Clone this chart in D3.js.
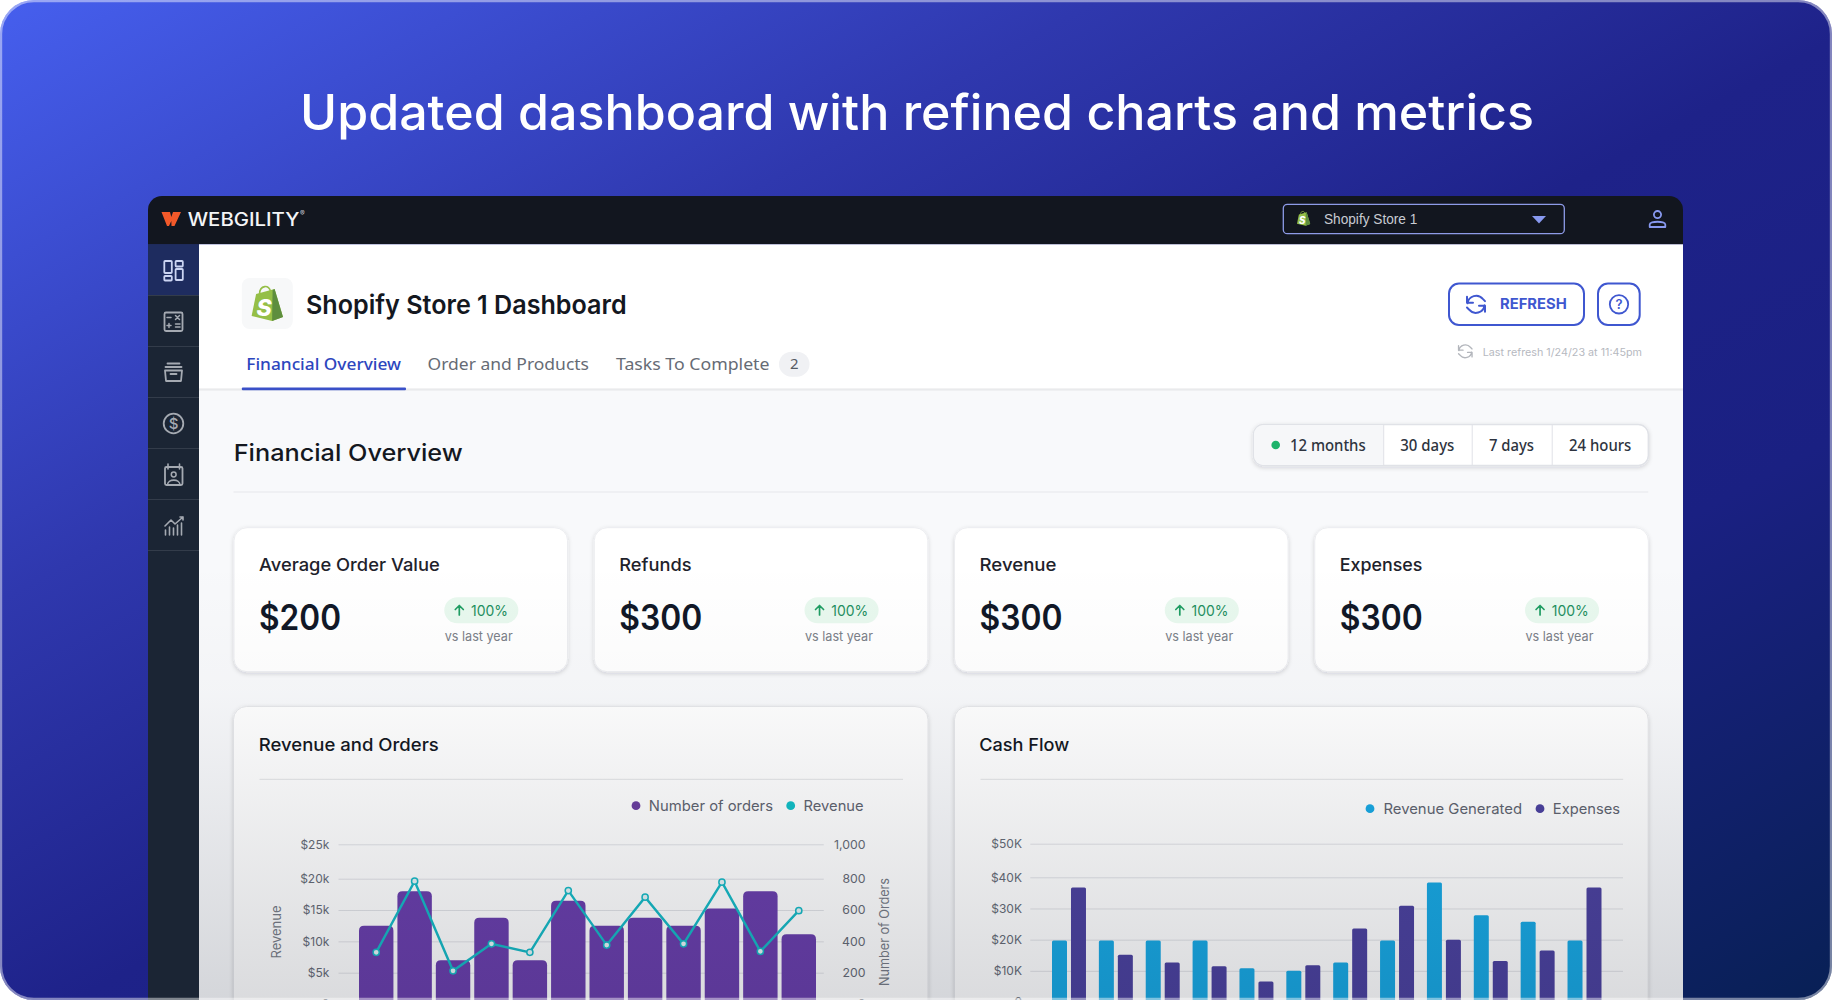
<!DOCTYPE html>
<html>
<head>
<meta charset="utf-8">
<script src="https://d3js.org/d3.v7.min.js"></script>
<style>
html,body{margin:0;padding:0;background:#fff;overflow:hidden}
svg{display:block}
text{font-family:Inter,"Noto Sans",sans-serif}
</style>
</head>
<body>
<svg id="c" width="1832" height="1000" viewBox="0 0 1832 1000"></svg>
<script>
// ---- chart data ----
const categories = ["Jan","Feb","Mar","Apr","May","Jun","Jul","Aug","Sep","Oct","Nov","Dec"];
const ordersValues = [500,720,280,550,280,660,500,550,500,610,720,445];
const revenueValues = [8250,19600,5300,9600,8250,18100,9400,17050,9600,19450,8400,14900];
const cashRevenueValues = [19700,19700,19700,19700,10800,10050,12700,19700,38350,27800,25750,19700];
const cashExpenseValues = [36750,15150,12700,11450,6600,11750,23600,30900,20000,13150,16550,36750];
const revenueTicks = [0,5000,10000,15000,20000,25000];
const orderTicks = [0,200,400,600,800,1000];
const cashTicks = [0,10000,20000,30000,40000,50000];
const cashSeries = ["Revenue Generated","Expenses"];
const kpiTitles = ["Average Order Value","Refunds","Revenue","Expenses"];
const kpiValues = ["$200","$300","$300","$300"];
const kpiChange = ["100%","100%","100%","100%"];
const rangeOptions = ["12 months","30 days","7 days","24 hours"];
const tabLabels = ["Financial Overview","Order and Products","Tasks To Complete"];

const svg = d3.select("#c");
const defs = svg.append("defs");

const bgGrad = defs.append("linearGradient").attr("id","bg").attr("x1",0).attr("y1",0).attr("x2",1).attr("y2",1);
[[0,"#465FEE"],[.3,"#2F38AE"],[.52,"#1E2289"],[.72,"#1A2082"],[1,"#082055"]].forEach(d=>bgGrad.append("stop").attr("offset",d[0]).attr("stop-color",d[1]));
const fade = defs.append("linearGradient").attr("id","fade").attr("x1",0).attr("y1",0).attr("x2",0).attr("y2",1);
[[0,0],[.3,.02],[1,.15]].forEach(d=>fade.append("stop").attr("offset",d[0]).attr("stop-color","#0a1020").attr("stop-opacity",d[1]));
const sh = defs.append("filter").attr("id","sh").attr("x","-5%").attr("y","-10%").attr("width","110%").attr("height","125%");
sh.append("feDropShadow").attr("dx",0).attr("dy",1.5).attr("stdDeviation",2).attr("flood-color","#101828").attr("flood-opacity",.16);
defs.append("clipPath").attr("id","frame").append("rect").attr("width",1832).attr("height",1000).attr("rx",34);
defs.append("clipPath").attr("id","panel").append("rect").attr("x",148).attr("y",196).attr("width",1535).attr("height",900).attr("rx",14);

const root = svg.append("g").attr("clip-path","url(#frame)");
root.append("rect").attr("width",1832).attr("height",1000).attr("fill","url(#bg)");

function T(p,x,y,str,o={}){
  const e = p.append("text").attr("x",x).attr("y",y).text(str)
    .attr("font-size",o.size||14).attr("font-weight",o.weight||400).attr("fill",o.fill||"#111");
  if(o.font) e.style("font-family",o.font);
  if(o.anchor) e.attr("text-anchor",o.anchor);
  if(o.width) e.attr("textLength",o.width).attr("lengthAdjust","spacingAndGlyphs");
  if(o.style) e.attr("font-style",o.style);
  return e;
}
function P(p,d,o={}){
  return p.append("path").attr("d",d).attr("fill",o.fill||"none").attr("stroke",o.stroke||"none")
    .attr("stroke-width",o.sw||1.8).attr("stroke-linecap","round").attr("stroke-linejoin","round");
}
function R(p,x,y,w,h,r,o={}){
  return p.append("rect").attr("x",x).attr("y",y).attr("width",w).attr("height",h).attr("rx",r||0)
    .attr("fill",o.fill||"none").attr("stroke",o.stroke||"none").attr("stroke-width",o.sw||1);
}

// title
T(root,300,130,"Updated dashboard with refined charts and metrics",{size:49,weight:500,fill:"#fff",width:1234});

// panel
const panel = root.append("g").attr("clip-path","url(#panel)");
R(panel,148,196,1535,48.3,0,{fill:"#12161F"});
R(panel,148,244.3,51,760,0,{fill:"#1B2534"});
R(panel,148,244.3,51,51,0,{fill:"#1E2C5F"});
[295,346,397,448,499,550].forEach(y=>R(panel,148,y,51,1,0,{fill:"#333C4A"}));
R(panel,199,244.3,1484,146,0,{fill:"#fff"});
R(panel,199,389,1484,620,0,{fill:"#F8F9FB"});
R(panel,199,388.4,1484,2.2,0,{fill:"#E9EAEC"});

// logo
P(panel,"M161.5,212 L170,212 L171.3,217 L173,212 L181,212 L174.5,226 L171.5,226 L171.3,221 L169,226 L167,226 Z",{fill:"#F2592A"});
T(panel,187.7,225.7,"WEBGILITY",{size:18,weight:500,fill:"#F4F5F7",width:111.7});
T(panel,300,216,"®",{size:7,fill:"#C8CAD0"});

function bag(p,x,y,s){
  const g = p.append("g").attr("transform",`translate(${x},${y}) scale(${s})`);
  P(g,"M0,29 L4.5,7 L23,2 L31.4,30 L20.5,34 Z",{fill:"#95BF47"});
  P(g,"M23,2 L31.4,30 L20.5,34 L21,3 Z",{fill:"#5E8E3E"});
  P(g,"M8,7 C8,-2 18,-3 19,5",{stroke:"#95BF47",sw:1.6});
  T(g,5,29,"S",{size:23,weight:800,fill:"#fff",style:"italic"});
}
// store selector
R(panel,1283.3,204.3,281,29.4,4,{stroke:"#8E9BE8",sw:1.3});
bag(panel,1297,211.5,.42);
T(panel,1324,224.4,"Shopify Store 1",{size:14.5,font:"'Liberation Sans'",fill:"#C9CCD3",width:93.3});
P(panel,"M1532,216 L1546,216 L1539,223.5 Z",{fill:"#8899F0"});
const ui = panel.append("g").attr("transform","translate(1657.5,219)");
ui.append("circle").attr("r",3.6).attr("cy",-4.4).attr("fill","none").attr("stroke","#8899F0").attr("stroke-width",1.8);
P(ui,"M-7.8,8 L-7.8,5.5 C-7.8,1.8 7.8,1.8 7.8,5.5 L7.8,8 Z",{stroke:"#8899F0"});

// header
R(panel,241.8,278,51,51,8,{fill:"#F7F8F9"});
bag(panel,251.6,287,1);
T(panel,306,314,"Shopify Store 1 Dashboard",{size:26,weight:600,fill:"#14181F",width:320.6});

const tabX = [[246.3,154.7,"#2D46BE"],[427.5,161.5,"#666B75"],[616,153.5,"#666B75"]];
tabLabels.forEach((t,i)=>T(panel,tabX[i][0],370,t,{size:17,font:"'Noto Sans'",fill:tabX[i][2],width:tabX[i][1],weight:i==0?500:400}));
R(panel,779,351.7,30.5,25,12.5,{fill:"#F0F1F4"});
T(panel,794.3,369,"2",{size:15,font:"'Noto Sans'",fill:"#555A63",anchor:"middle"});
R(panel,241.8,387.6,164.2,2.6,1,{fill:"#3A50C8"});

function refresh(p,cx,cy,s,col,sw){
  const g = p.append("g").attr("transform",`translate(${cx},${cy}) scale(${s})`);
  P(g,"M-8.5,-1 A8.7,8.7 0 0 1 6.8,-5.4 L9,-3.2 M-9,-7.5 L-9,-1.5 L-3,-1.5",{stroke:col,sw:sw});
  P(g,"M8.5,1 A8.7,8.7 0 0 1 -6.8,5.4 L-9,3.2 M9,7.5 L9,1.5 L3,1.5",{stroke:col,sw:sw});
}
R(panel,1449,283.5,135,41.5,10,{stroke:"#3F57D0",sw:2});
refresh(panel,1476,304.3,1,"#3F57D0",2);
T(panel,1500,309.4,"REFRESH",{size:14.5,weight:700,fill:"#3F57D0",width:66.7});
R(panel,1598,283.5,41.7,41.5,10,{stroke:"#3F57D0",sw:2});
panel.append("circle").attr("cx",1619).attr("cy",304.3).attr("r",9.2).attr("fill","none").attr("stroke","#3F57D0").attr("stroke-width",1.8);
T(panel,1619,309,"?",{size:13,weight:600,fill:"#3F57D0",anchor:"middle"});
refresh(panel,1465.3,351.3,.75,"#B3B6BC",1.8);
T(panel,1482.7,355.6,"Last refresh 1/24/23 at 11:45pm",{size:10.5,fill:"#B6B9BF",width:159.3});

// section header + range selector
T(panel,233.7,460.7,"Financial Overview",{size:23,weight:500,fill:"#14181F",width:229});
R(panel,233.5,491.5,1414.8,1,0,{fill:"#E6E7EB"});
const seg = panel.append("g");
R(seg,1253.5,424.5,394.8,41,10,{fill:"#fff",stroke:"#E0E2E7",sw:1.4}).attr("filter","url(#sh)");
P(seg,"M1383.7,425 L1263.5,425 A9.5,9.5 0 0 0 1254,434.5 L1254,455.5 A9.5,9.5 0 0 0 1263.5,465 L1383.7,465 Z",{fill:"#F6F7F9"});
[1383.2,1471.7,1551.7].forEach(x=>R(seg,x,425,1,40.5,0,{fill:"#E0E2E7"}));
seg.append("circle").attr("cx",1275.7).attr("cy",445).attr("r",4.3).attr("fill","#1DB36B");
const rangeX=[[1290,75.7],[1400.3,54],[1489,45],[1569,62.3]];
rangeOptions.forEach((t,i)=>T(seg,rangeX[i][0],450.7,t,{size:16,weight:500,font:"'Noto Sans'",fill:"#2E3440",width:rangeX[i][1]}));

// KPI cards
const kpiTitleW=[180.7,72.3,77,82.7];
kpiTitles.forEach((t,i)=>{
  const x0=234+i*360.25, g=panel.append("g").attr("transform",`translate(${x0},0)`);
  R(g,0,527.7,333.6,144,13,{fill:"#fff",stroke:"#ECEDF0",sw:1}).attr("filter","url(#sh)");
  T(g,25,570.6,t,{size:17.5,weight:500,fill:"#1E222B",width:kpiTitleW[i]});
  T(g,25,630,kpiValues[i],{size:35,weight:600,fill:"#111827",width:i==0?82:83});
  R(g,210.3,597.3,74,26,13,{fill:"#E8F8EE"});
  P(g,"M225.3,615 L225.3,606 M221.3,609.5 L225.3,605.5 L229.3,609.5",{stroke:"#1F9D63",sw:1.7});
  T(g,237,616,kpiChange[i],{size:14.5,fill:"#1F8F5F",width:37});
  T(g,210.7,641,"vs last year",{size:13,fill:"#7B8088",width:68});
});

// ---- chart cards ----
function chartCard(x,w,title,tw,tx){
  const g=panel.append("g");
  R(g,x,706.5,w,360,13,{fill:"#fff",stroke:"#E6E7EA",sw:1}).attr("filter","url(#sh)");
  T(g,tx,751,title,{size:17.5,weight:500,fill:"#14181F",width:tw});
  R(g,x+26,778.8,w-51,1,0,{fill:"#E3E4E7"});
  return g;
}
function legendItem(g,cx,cy,col,label,tx,tw){
  g.append("circle").attr("cx",cx).attr("cy",cy).attr("r",4.4).attr("fill",col);
  T(g,tx,cy+5.2,label,{size:14.5,fill:"#5F6470",width:tw});
}
function styleAxis(a,size,col){
  a.select(".domain").remove();
  a.selectAll(".tick line").attr("stroke","#E2E3E7").attr("stroke-width",1);
  a.selectAll(".tick text").attr("font-size",size).attr("fill",col).style("font-family","Inter");
}

// Revenue and Orders
const g1 = chartCard(233.5,694.5,"Revenue and Orders",180,258.8);
legendItem(g1,636,805.7,"#6B3FA0","Number of orders",648.8,124.2);
legendItem(g1,790.7,805.7,"#12BFC7","Revenue",803.6,60);
const x1 = d3.scaleBand().domain(categories).range([359,816]).paddingInner(.104);
const yRev = d3.scaleLinear().domain([0,20000,25000]).range([1004,878.7,844.3]);
const yOrd = d3.scaleLinear().domain([0,800,1000]).range([1004,878.7,844.3]);
const ax1 = g1.append("g").attr("transform","translate(338.5,0)")
  .call(d3.axisLeft(yRev).tickValues(revenueTicks).tickSize(-485.3).tickPadding(9.2)
    .tickFormat(d=>d===0?"0":"$"+d/1000+"k"));
styleAxis(ax1,12,"#666B76");
const ax1r = g1.append("g").attr("transform","translate(865.5,0)")
  .call(d3.axisRight(yOrd).tickValues(orderTicks).tickSize(0).tickPadding(0).tickFormat(d3.format(",")));
styleAxis(ax1r,12.3,"#666B76");
ax1r.selectAll(".tick text").attr("x",0).attr("text-anchor","end");
T(g1,0,0,"Revenue",{size:13,fill:"#777C86",anchor:"middle",width:53}).attr("transform","translate(281,932) rotate(-90)");
T(g1,0,0,"Number of Orders",{size:13,fill:"#777C86",anchor:"middle",width:108}).attr("transform","translate(889,932) rotate(-90)");
const roundTop=(x,y,w,b,r)=>`M${x},${b}V${y+r}Q${x},${y} ${x+r},${y}H${x+w-r}Q${x+w},${y} ${x+w},${y+r}V${b}Z`;
g1.append("g").selectAll("path").data(ordersValues).join("path")
  .attr("d",(d,i)=>roundTop(x1(categories[i]),yOrd(d),x1.bandwidth(),yOrd(0),5))
  .attr("fill","#6A3FAC");
const line1 = d3.line().x((d,i)=>x1(categories[i])+x1.bandwidth()/2).y(d=>yRev(d));
g1.append("path").attr("d",line1(revenueValues)).attr("fill","none").attr("stroke","#16BAC6").attr("stroke-width",2.4);
g1.append("g").selectAll("circle").data(revenueValues).join("circle")
  .attr("cx",(d,i)=>x1(categories[i])+x1.bandwidth()/2).attr("cy",d=>yRev(d)).attr("r",3.1)
  .attr("fill","#E6F4F6").attr("stroke","#16BAC6").attr("stroke-width",1.5);

// Cash Flow
const g2 = chartCard(954.5,693.7,"Cash Flow",90,979.2);
legendItem(g2,1370,808.7,"#18A9E4","Revenue Generated",1383.4,138.6);
legendItem(g2,1540,808.7,"#4C429F","Expenses",1552.8,67.2);
const x2 = d3.scaleBand().domain(categories).range([1052,1601.5]).paddingInner(.275);
const x2s = d3.scaleBand().domain(cashSeries).range([0,x2.bandwidth()]).paddingInner(.21);
const y2 = d3.scaleLinear().domain([0,40000,50000]).range([1002,877.3,843.7]);
const ax2 = g2.append("g").attr("transform","translate(1030.3,0)")
  .call(d3.axisLeft(y2).tickValues(cashTicks).tickSize(-592.7).tickPadding(8.3)
    .tickFormat(d=>d===0?"0":"$"+d/1000+"K"));
styleAxis(ax2,12,"#666B76");
const cashCols=["#18A9E4","#4C429F"];
[cashRevenueValues,cashExpenseValues].forEach((vals,k)=>{
  g2.append("g").selectAll("path").data(vals).join("path")
    .attr("d",(d,i)=>roundTop(x2(categories[i])+x2s(cashSeries[k]),y2(d),x2s.bandwidth(),y2(0),1.5))
    .attr("fill",cashCols[k]);
});

// sidebar icons
const act="#CBD4F2", ic="#A5AAB2";
const si=panel.append("g");
[[164.3,261,7.5,12],[175.6,261,7.2,5.5],[175.6,269,7.2,11],[164.3,276,7.5,4.5]].forEach(r=>R(si,r[0],r[1],r[2],r[3],.8,{stroke:act,sw:1.8}));
R(si,164.5,312.5,18,18.5,1.5,{stroke:ic,sw:1.8});
P(si,"M167,317.5 H171 M175.5,315.5 L179.5,319.5 M179.5,315.5 L175.5,319.5 M167,325.5 H171 M169,323.5 V327.5 M175.5,324 H180 M175.5,327 H180",{stroke:ic,sw:1.5});
P(si,"M167.5,363.5 H179.5 M165.5,367 H181.5 M165,370.5 H182 L181,381 H166 Z M170.5,374 H176.5",{stroke:ic,sw:1.8});
si.append("circle").attr("cx",173.5).attr("cy",423.5).attr("r",9.8).attr("fill","none").attr("stroke",ic).attr("stroke-width",1.8);
T(si,173.5,429,"$",{size:15,weight:500,fill:ic,anchor:"middle"});
R(si,165,467,17.5,18,1.5,{stroke:ic,sw:1.8});
P(si,"M168,464 V469 M179.5,464 V469 M167.5,485 C167.5,478.5 180,478.5 180,485",{stroke:ic,sw:1.6});
si.append("circle").attr("cx",173.7).attr("cy",474.5).attr("r",2.4).attr("fill","none").attr("stroke",ic).attr("stroke-width",1.5);
P(si,"M165,526 L171,520 L175,524 L183,517 M180,517 H183 V520 M165.5,530 V535 M169.5,527 V535 M173.5,528 V535 M177.5,525 V535 M181.5,523 V535",{stroke:ic,sw:1.6});

// bottom darkening over the content area
root.append("rect").attr("x",199).attr("y",560).attr("width",1484).attr("height",440).attr("fill","url(#fade)");
// frame edge
root.append("rect").attr("x",1).attr("y",1).attr("width",1830).attr("height",998).attr("rx",33)
  .attr("fill","none").attr("stroke","#fff").attr("stroke-opacity",.45).attr("stroke-width",2.4);
</script>
</body>
</html>
